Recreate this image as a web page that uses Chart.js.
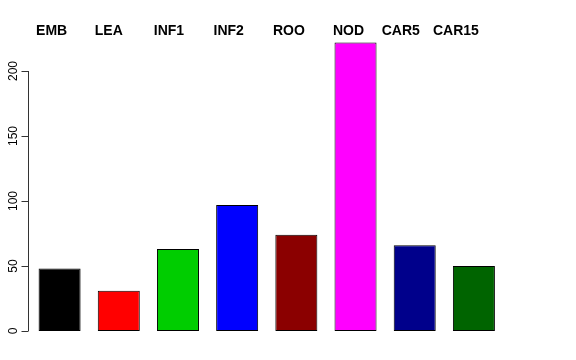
<!DOCTYPE html>
<html>
<head>
<meta charset="utf-8">
<script src="https://cdn.jsdelivr.net/npm/chart.js@4"></script>
<style>
  body { margin: 0; background: #fff; }
  #wrap { width: 576px; height: 360px; }
</style>
</head>
<body>
<div id="wrap"><canvas id="bar-chart" width="576" height="360"></canvas></div>
<script>
// datos
const tissues = ['EMB', 'LEA', 'INF1', 'INF2', 'ROO', 'NOD', 'CAR5', 'CAR15'];
const counts = [48, 31, 63, 97, 74, 222, 66, 50];
const yTicks = [0, 50, 100, 150, 200];

// colores (R: black, red, green3, blue, darkred, magenta, darkblue, darkgreen)
const colors = ['#000000', '#ff0000', '#00cd00', '#0000ff', '#8b0000', '#ff00ff', '#00008b', '#006400'];

// small shifts of the top labels relative to bar centre
const labelShift = [-8, -10, -9, -8.5, -7.5, -7, -14, -18];

// draws the R-style axis and the labels above the bars
const rAxis = {
  id: 'rAxis',
  afterDraw(chart) {
    const ctx = chart.ctx;
    const xs = chart.scales.x;
    const ys = chart.scales.y;
    const axisX = 28.5;

    ctx.save();
    ctx.strokeStyle = '#333';
    ctx.lineWidth = 1;
    ctx.beginPath();
    ctx.moveTo(axisX, ys.getPixelForValue(yTicks[0]));
    ctx.lineTo(axisX, ys.getPixelForValue(yTicks[yTicks.length - 1]));
    for (let t of yTicks) {
      let py = Math.round(ys.getPixelForValue(t)) + 0.5;
      ctx.moveTo(axisX, py);
      ctx.lineTo(axisX - 7, py);
    }
    ctx.stroke();

    ctx.fillStyle = '#000';
    ctx.font = '12px "Liberation Sans", Arial, sans-serif';
    ctx.textAlign = 'center';
    ctx.textBaseline = 'alphabetic';
    for (let t of yTicks) {
      ctx.save();
      ctx.translate(17, ys.getPixelForValue(t));
      ctx.rotate(-Math.PI / 2);
      ctx.fillText(String(t), 0, 0);
      ctx.restore();
    }

    ctx.font = 'bold 14px "Liberation Sans", Arial, sans-serif';
    tissues.forEach((name, i) => {
      ctx.fillText(name, xs.getPixelForValue(i) + labelShift[i], 35);
    });
    ctx.restore();
  }
};

let ctx1 = document.getElementById('bar-chart').getContext('2d');
let myChart1 = new Chart(ctx1, {
  type: 'bar',
  data: {
    labels: tissues,
    datasets: [{
      data: counts,
      backgroundColor: colors,
      borderColor: '#000',
      borderWidth: 1,
      borderSkipped: false,
      barPercentage: 0.71,
      categoryPercentage: 1
    }]
  },
  options: {
    responsive: false,
    animation: false,
    layout: { padding: { left: 30, right: 72.5, top: 32, bottom: 29 } },
    plugins: { legend: { display: false }, tooltip: { enabled: false } },
    scales: {
      x: { display: false },
      y: { display: false, min: 0, max: 230 }
    }
  },
  plugins: [rAxis]
});
</script>
</body>
</html>
